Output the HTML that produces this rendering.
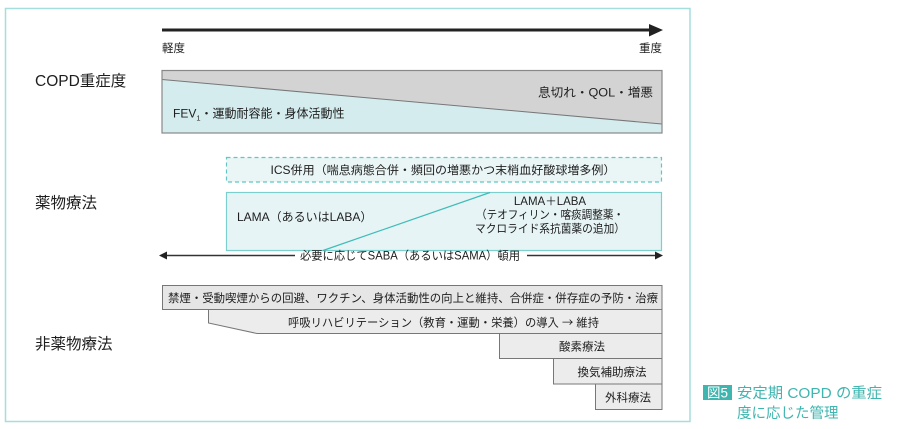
<!DOCTYPE html>
<html><head><meta charset="utf-8">
<style>
html,body{margin:0;padding:0;background:#fff;}
svg{display:block;}
text{font-family:"Liberation Sans","Noto Sans CJK JP",sans-serif;fill:#1e1e1e;}
</style></head>
<body>
<svg width="916" height="429" viewBox="0 0 916 429" xmlns="http://www.w3.org/2000/svg">
  <!-- outer frame -->
  <rect x="5.5" y="8.5" width="684.5" height="413" fill="#fff" stroke="#a6dddd" stroke-width="1.5"/>

  <!-- severity arrow -->
  <rect x="162" y="28.5" width="489" height="3" fill="#222"/>
  <polygon points="649,24 663,30 649,36.5" fill="#222"/>
  <text x="162" y="52" font-size="11.5">軽度</text>
  <text x="662" y="52" font-size="11.5" text-anchor="end">重度</text>

  <!-- left labels -->
  <text x="35" y="86" font-size="15.5">COPD重症度</text>
  <text x="35" y="208" font-size="15.5">薬物療法</text>
  <text x="35" y="349" font-size="15.5">非薬物療法</text>

  <!-- severity box -->
  <polygon points="162,70 662,70 662,124 162,79.5" fill="#d3d3d3"/>
  <polygon points="162,79.5 662,124 662,133 162,133" fill="#d4ecee"/>
  <line x1="162" y1="79.5" x2="662" y2="124" stroke="#777" stroke-width="1"/>
  <rect x="162" y="70.5" width="500" height="62.5" fill="none" stroke="#888" stroke-width="1.2"/>
  <text x="653" y="96.5" font-size="12" text-anchor="end" textLength="115" lengthAdjust="spacingAndGlyphs">息切れ・QOL・増悪</text>
  <text x="173" y="117.5" font-size="12">FEV<tspan font-size="7.5" dy="3">1</tspan><tspan dy="-3">・運動耐容能・身体活動性</tspan></text>

  <!-- ICS dashed box -->
  <rect x="226.5" y="157.5" width="435" height="24.5" fill="#eaf5f6" stroke="#62c6c4" stroke-width="1.2" stroke-dasharray="4,3"/>
  <text x="443" y="174" font-size="11.5" text-anchor="middle" textLength="345" lengthAdjust="spacingAndGlyphs">ICS併用（喘息病態合併・頻回の増悪かつ末梢血好酸球増多例）</text>

  <!-- LAMA box -->
  <rect x="226.5" y="192.5" width="435" height="58" fill="#e6f4f5" stroke="#7bcfcd" stroke-width="1.2"/>
  <line x1="323" y1="250.5" x2="490" y2="192.5" stroke="#3fbdb8" stroke-width="1.2"/>
  <text x="237" y="221" font-size="12">LAMA（あるいはLABA）</text>
  <text x="550" y="205" font-size="11.5" text-anchor="middle">LAMA＋LABA</text>
  <text x="550" y="218.5" font-size="11.5" text-anchor="middle" textLength="148" lengthAdjust="spacingAndGlyphs">（テオフィリン・喀痰調整薬・</text>
  <text x="550" y="232.5" font-size="11.5" text-anchor="middle" textLength="150" lengthAdjust="spacingAndGlyphs">マクロライド系抗菌薬の追加）</text>

  <!-- SABA arrow -->
  <line x1="165" y1="255.5" x2="295" y2="255.5" stroke="#333" stroke-width="1.4"/>
  <polygon points="159,255.5 167,251.5 167,259.5" fill="#222"/>
  <line x1="527" y1="255.5" x2="656" y2="255.5" stroke="#333" stroke-width="1.4"/>
  <polygon points="663,255.5 655,251.5 655,259.5" fill="#222"/>
  <text x="300" y="259.5" font-size="11.5" textLength="220" lengthAdjust="spacingAndGlyphs">必要に応じてSABA（あるいはSAMA）頓用</text>

  <!-- non-drug bars -->
  <rect x="162.5" y="285.5" width="499.5" height="24" fill="#e6e6e6" stroke="#777" stroke-width="1"/>
  <text x="168" y="302" font-size="11.5" textLength="490" lengthAdjust="spacingAndGlyphs">禁煙・受動喫煙からの回避、ワクチン、身体活動性の向上と維持、合併症・併存症の予防・治療</text>

  <polygon points="208.5,309.5 662,309.5 662,333.5 257,333.5 208.5,323" fill="#ececec" stroke="#777" stroke-width="1"/>
  <text x="288" y="326.5" font-size="11.5" textLength="311" lengthAdjust="spacingAndGlyphs">呼吸リハビリテーション（教育・運動・栄養）の導入 <tspan font-family="Noto Sans CJK JP, sans-serif">→</tspan> 維持</text>

  <rect x="499.5" y="333.5" width="162.5" height="25" fill="#ececec" stroke="#777" stroke-width="1"/>
  <text x="582" y="350.5" font-size="11.5" text-anchor="middle">酸素療法</text>

  <rect x="553.5" y="358.5" width="108.5" height="25.5" fill="#ececec" stroke="#777" stroke-width="1"/>
  <text x="612" y="376" font-size="11.5" text-anchor="middle">換気補助療法</text>

  <rect x="595.5" y="384" width="66.5" height="25.5" fill="#ececec" stroke="#777" stroke-width="1"/>
  <text x="628" y="401.5" font-size="11.5" text-anchor="middle">外科療法</text>

  <!-- caption -->
  <rect x="703" y="385" width="29" height="15" fill="#3fb5af"/>
  <text x="717.5" y="397.5" font-size="13.5" text-anchor="middle" style="fill:#fff">図5</text>
  <text x="737" y="398" font-size="14.5" style="fill:#3fb5af" textLength="145" lengthAdjust="spacingAndGlyphs">安定期 COPD の重症</text>
  <text x="737" y="418" font-size="14.5" style="fill:#3fb5af">度に応じた管理</text>
</svg>
</body></html>
